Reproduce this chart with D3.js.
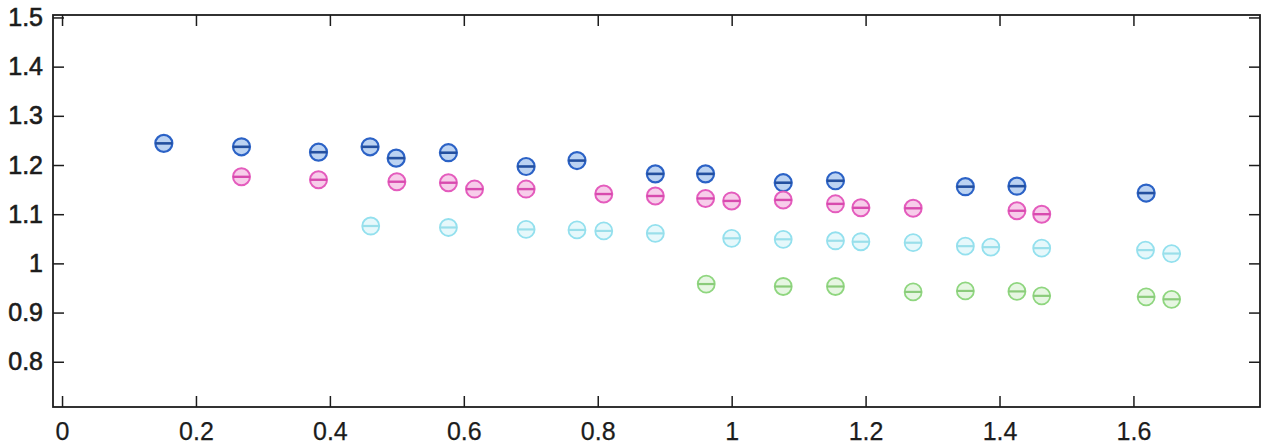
<!DOCTYPE html>
<html>
<head>
<meta charset="utf-8">
<script src="https://cdn.jsdelivr.net/npm/d3@7"></script>
<style>
    body { margin: 0; background: #fff; }
</style>
</head>
<body>
<div id="chart"></div>
<script>
// DATA
const blueX = [0.152, 0.268, 0.383, 0.460, 0.499, 0.577, 0.693, 0.769, 0.886, 0.961, 1.077, 1.155, 1.349, 1.426, 1.619];
const blueY = [1.244, 1.237, 1.226, 1.237, 1.214, 1.225, 1.197, 1.209, 1.182, 1.182, 1.164, 1.168, 1.156, 1.157, 1.143];

const pinkX = [0.268, 0.383, 0.500, 0.577, 0.616, 0.693, 0.809, 0.886, 0.961, 1.000, 1.077, 1.155, 1.193, 1.271, 1.426, 1.463];
const pinkY = [1.176, 1.170, 1.166, 1.164, 1.151, 1.151, 1.141, 1.137, 1.132, 1.127, 1.129, 1.121, 1.113, 1.112, 1.107, 1.100];

const cyanX = [0.461, 0.577, 0.693, 0.769, 0.809, 0.886, 1.000, 1.077, 1.155, 1.193, 1.271, 1.349, 1.387, 1.463, 1.618, 1.657];
const cyanY = [1.076, 1.073, 1.069, 1.068, 1.066, 1.061, 1.051, 1.049, 1.046, 1.044, 1.042, 1.035, 1.033, 1.031, 1.027, 1.020];

const greenX = [0.962, 1.077, 1.155, 1.271, 1.349, 1.426, 1.463, 1.619, 1.657];
const greenY = [0.958, 0.953, 0.953, 0.942, 0.944, 0.943, 0.934, 0.932, 0.927];

const xTicks = [0, 0.2, 0.4, 0.6, 0.8, 1, 1.2, 1.4, 1.6];
const xTickLabels = ["0", "0.2", "0.4", "0.6", "0.8", "1", "1.2", "1.4", "1.6"];
const yTicks = [0.8, 0.9, 1, 1.1, 1.2, 1.3, 1.4, 1.5];
const yTickLabels = ["0.8", "0.9", "1", "1.1", "1.2", "1.3", "1.4", "1.5"];

(function() {
    'use strict';

    const width = 1265;
    const height = 445;

    const marginTop = 15;
    const marginRight = 5;
    const marginBottom = 38;
    const marginLeft = 53;

    const series = [
        { xs: blueX, ys: blueY, stroke: "#2b62c6", fill: "#bcd3f2", line: "#24509f", sw: 2.2 },
        { xs: pinkX, ys: pinkY, stroke: "#e45cbd", fill: "#f7cdea", line: "#d84aae", sw: 2 },
        { xs: cyanX, ys: cyanY, stroke: "#93e0ee", fill: "#e6f8fb", line: "#9adfea", sw: 1.8 },
        { xs: greenX, ys: greenY, stroke: "#8fd67f", fill: "#e6f6e2", line: "#8acb7a", sw: 1.8 }
    ];

    // SVG
    const svg = d3.select("#chart")
        .append("svg")
        .attr("width", width)
        .attr("height", height)
        .style("font-family", "'Liberation Sans', Arial, sans-serif");

    // SCALES
    const x = d3.scaleLinear()
        .domain([-0.0135, 1.789])
        .range([marginLeft, width - marginRight]);

    const y = d3.scaleLinear()
        .domain([0.708, 1.505])
        .range([height - marginBottom, marginTop]);

    const axisColor = "#1c1c1c";

    // X AXIS
    svg.append("g")
        .attr("transform", `translate(0, ${height - marginBottom})`)
        .call(d3.axisBottom(x)
            .tickValues(xTicks)
            .tickSizeInner(-11)
            .tickSizeOuter(0)
            .tickPadding(15)
            .tickFormat((d, i) => xTickLabels[i]))
        .call(g => g.select(".domain").remove())
        .call(g => g.selectAll("line").attr("stroke", axisColor).attr("stroke-width", 1.5))
        .selectAll("text")
        .attr("fill", axisColor)
        .attr("stroke", axisColor)
        .attr("stroke-width", 0.25)
        .attr("font-size", "25px");

    // TOP TICKS
    svg.append("g")
        .attr("transform", `translate(0, ${marginTop})`)
        .call(d3.axisTop(x)
            .tickValues(xTicks)
            .tickSizeInner(-11)
            .tickSizeOuter(0)
            .tickFormat(""))
        .call(g => g.select(".domain").remove())
        .call(g => g.selectAll("line").attr("stroke", axisColor).attr("stroke-width", 1.5));

    // Y AXIS
    svg.append("g")
        .attr("transform", `translate(${marginLeft}, 0)`)
        .call(d3.axisLeft(y)
            .tickValues(yTicks)
            .tickSizeInner(-11)
            .tickSizeOuter(0)
            .tickPadding(10)
            .tickFormat((d, i) => yTickLabels[i]))
        .call(g => g.select(".domain").remove())
        .call(g => g.selectAll("line").attr("stroke", axisColor).attr("stroke-width", 1.5))
        .selectAll("text")
        .attr("fill", axisColor)
        .attr("stroke", axisColor)
        .attr("stroke-width", 0.6)
        .attr("font-size", "25px");

    // RIGHT TICKS
    svg.append("g")
        .attr("transform", `translate(${width - marginRight}, 0)`)
        .call(d3.axisRight(y)
            .tickValues(yTicks)
            .tickSizeInner(-11)
            .tickSizeOuter(0)
            .tickFormat(""))
        .call(g => g.select(".domain").remove())
        .call(g => g.selectAll("line").attr("stroke", axisColor).attr("stroke-width", 1.5));

    // FRAME
    svg.append("rect")
        .attr("x", x.range()[0])
        .attr("y", y.range()[1])
        .attr("width", x.range()[1] - x.range()[0])
        .attr("height", y.range()[0] - y.range()[1])
        .attr("fill", "none")
        .attr("stroke", axisColor)
        .attr("stroke-width", 1.8);

    // MARKERS
    const r = 8.5;
    series.forEach(s => {
        const pts = s.xs.map((v, i) => ({ x: v, y: s.ys[i] }));
        const g = svg.append("g");

        g.selectAll("circle")
            .data(pts)
            .join("circle")
            .attr("cx", d => x(d.x))
            .attr("cy", d => y(d.y))
            .attr("r", r)
            .attr("fill", s.fill)
            .attr("stroke", s.stroke)
            .attr("stroke-width", s.sw);

        g.selectAll("line")
            .data(pts)
            .join("line")
            .attr("x1", d => x(d.x) - r)
            .attr("x2", d => x(d.x) + r)
            .attr("y1", d => y(d.y))
            .attr("y2", d => y(d.y))
            .attr("stroke", s.line)
            .attr("stroke-width", s.sw + 0.4);
    });

})();
</script>
</body>
</html>
